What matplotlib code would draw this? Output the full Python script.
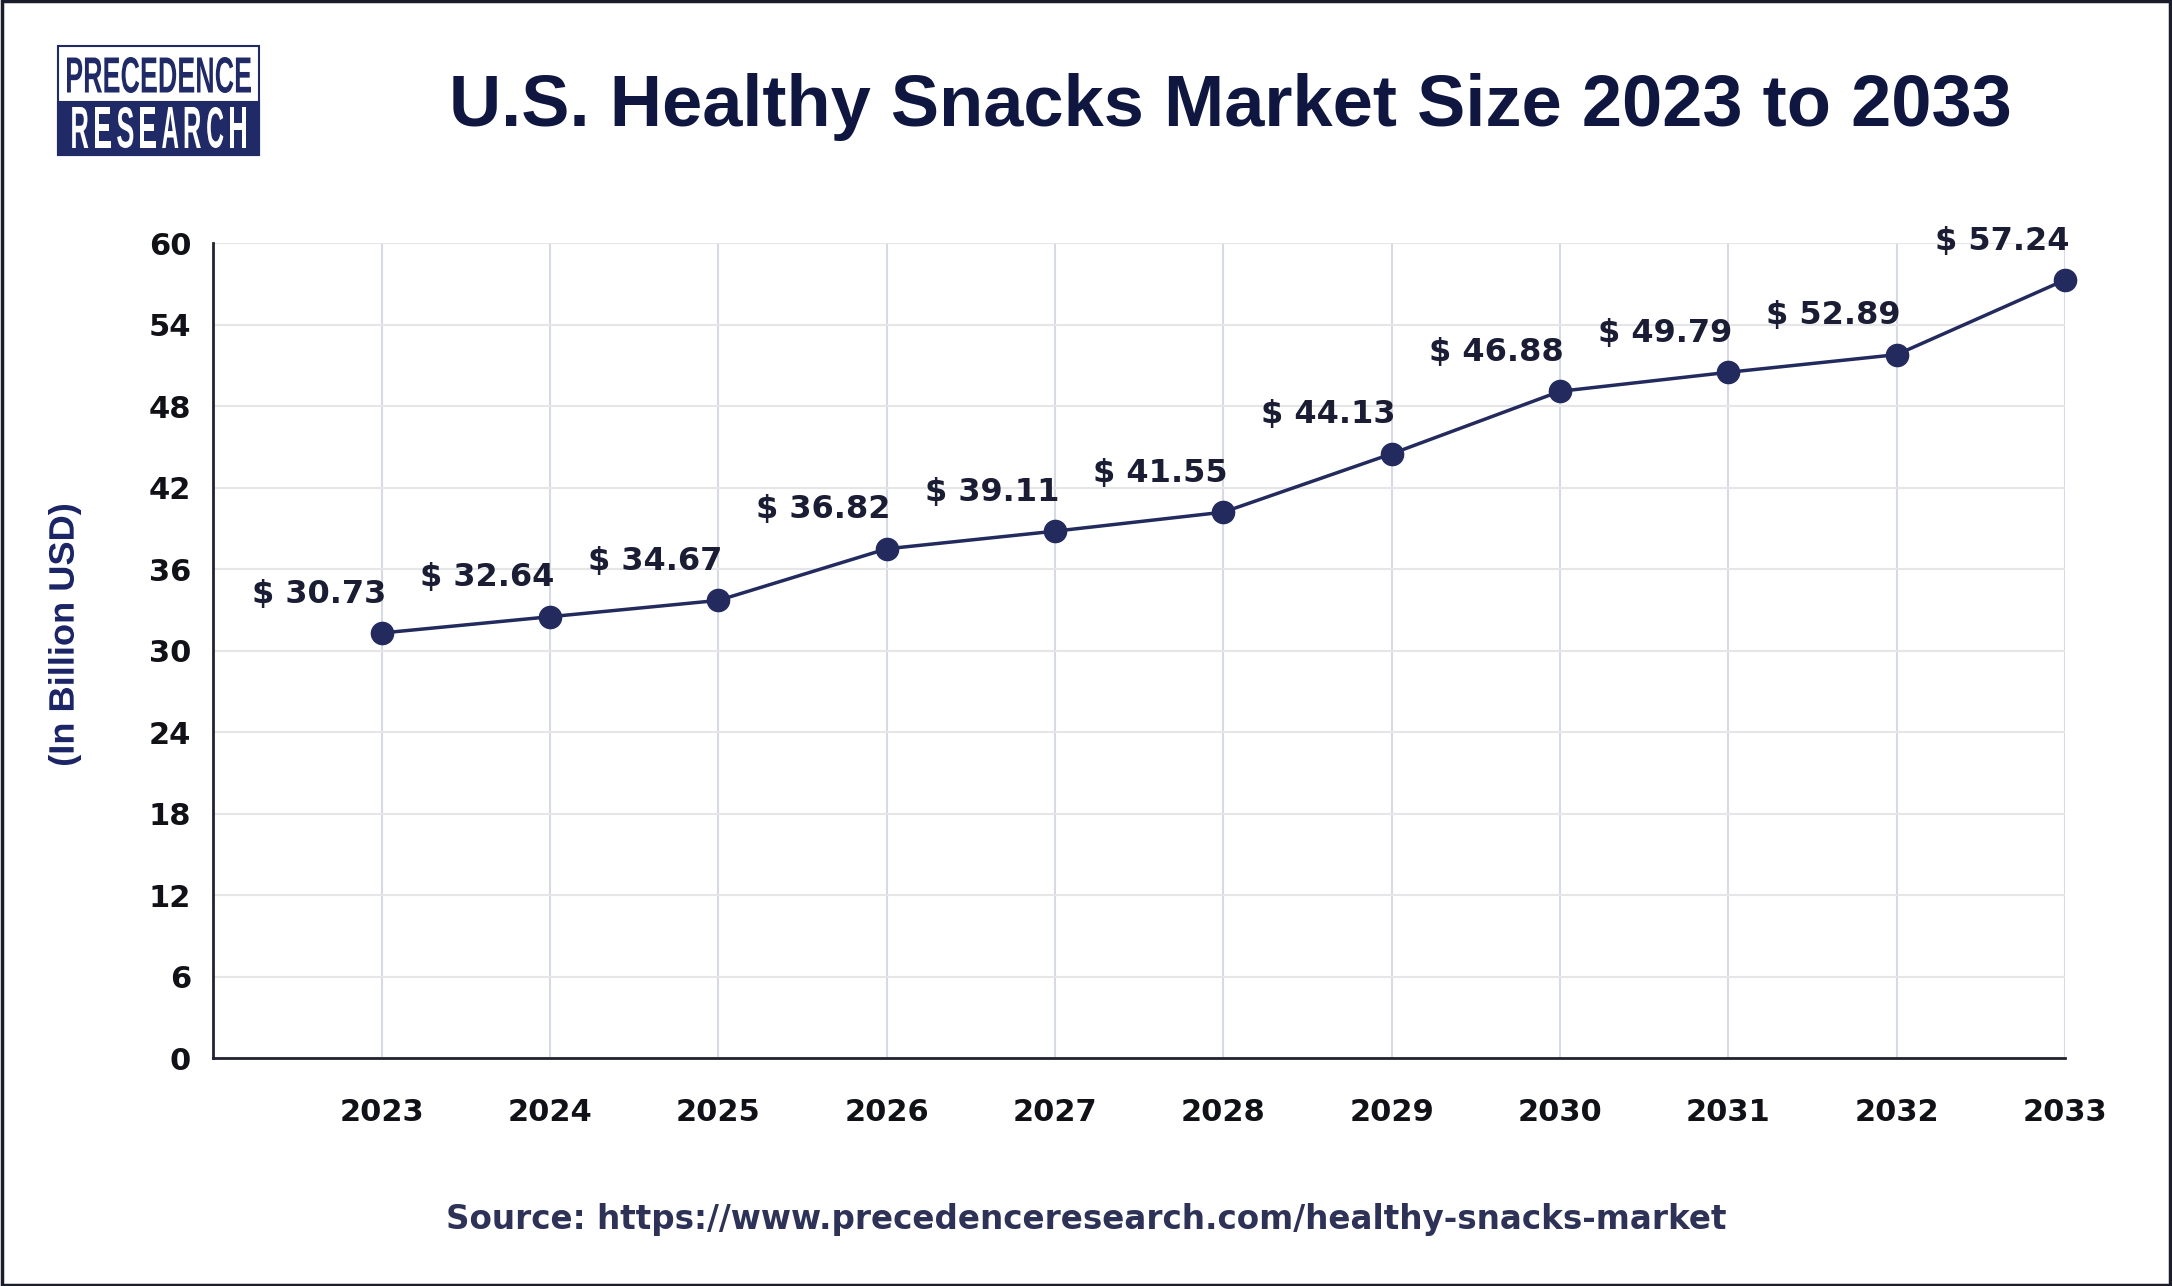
import matplotlib
matplotlib.use('Agg')
import matplotlib.pyplot as plt
from matplotlib.patches import Rectangle, PathPatch
from matplotlib.textpath import TextPath
from matplotlib.font_manager import FontProperties
from matplotlib.transforms import Affine2D, IdentityTransform

years = [2023, 2024, 2025, 2026, 2027, 2028, 2029, 2030, 2031, 2032, 2033]
# values printed on the chart
labels = [30.73, 32.64, 34.67, 36.82, 39.11, 41.55, 44.13, 46.88, 49.79, 52.89, 57.24]
# where the markers actually sit on the y axis
plotted = [31.3, 32.5, 33.7, 37.5, 38.8, 40.2, 44.5, 49.1, 50.5, 51.8, 57.3]
yticks = [0, 6, 12, 18, 24, 30, 36, 42, 48, 54, 60]

navy = '#232a5e'
W, H = 2172, 1286

fig = plt.figure(figsize=(W / 100, H / 100), dpi=100)
fig.patch.set_facecolor('white')

# frame round the whole picture
fig.patches.append(Rectangle((0.0007, 0.001), 0.9986, 0.998, transform=fig.transFigure,
                             fill=False, edgecolor='#1b1d2b', linewidth=2.5))

ax = fig.add_axes([213.4 / W, 1 - 1058 / H, (2065 - 213.4) / W, (1058 - 243.3) / H])
ax.set_xlim(2022, 2033)
ax.set_ylim(0, 60)
ax.set_xticks(years)
ax.set_yticks(yticks)
ax.set_axisbelow(True)
ax.grid(axis='y', color='#e6e6e8', linewidth=1.5)
ax.grid(axis='x', color='#d6dae4', linewidth=1.5)
for s in ['top', 'right']:
    ax.spines[s].set_visible(False)
for s in ['left', 'bottom']:
    ax.spines[s].set_color('#222230')
    ax.spines[s].set_linewidth(2)
ax.tick_params(axis='both', length=0, labelsize=22, labelcolor='#111118')
ax.tick_params(axis='x', pad=29)
ax.tick_params(axis='y', pad=16)
for t in ax.get_xticklabels() + ax.get_yticklabels():
    t.set_fontweight('bold')

ax.plot(years, plotted, color=navy, linewidth=2.5, marker='o', markersize=16,
        markerfacecolor=navy, markeredgecolor=navy, clip_on=False, zorder=3)
for x, y, v in zip(years, plotted, labels):
    ax.annotate(f'$ {v:.2f}', (x, y), xytext=(3, 28), textcoords='offset points',
                ha='right', va='center', fontsize=23, fontweight='bold', color='#1a1d33')

fig.text(0.5663, 0.917, 'U.S. Healthy Snacks Market Size 2023 to 2033',
         ha='center', va='center', fontsize=52, fontweight='bold',
         family=['Liberation Sans', 'DejaVu Sans'], color='#0f1640')

fig.text(0.5, 1 - 1220 / H, 'Source: https://www.precedenceresearch.com/healthy-snacks-market',
         ha='center', va='center', fontsize=23.5, fontweight='bold', color='#2e3256')

fp = FontProperties(family=['Liberation Sans Narrow', 'Liberation Sans'], weight='bold')


def squeezed(s, x0, x1, ytop, ybot, color, rotate=False):
    # text path stretched into a pixel box (x0..x1, ytop..ybot measured from the top)
    p = TextPath((0, 0), s, size=10, prop=fp)
    b = p.get_extents()
    if rotate:
        tr = (Affine2D().translate(-b.x0, -b.y0)
              .scale((ybot - ytop) / b.width, (x1 - x0) / b.height)
              .rotate_deg(90).translate(x1, H - ybot))
    else:
        tr = (Affine2D().translate(-b.x0, -b.y0)
              .scale((x1 - x0) / b.width, (ybot - ytop) / b.height)
              .translate(x0, H - ybot))
    fig.patches.append(PathPatch(tr.transform_path(p), facecolor=color, edgecolor='none',
                                 transform=IdentityTransform()))


# y axis title, condensed
squeezed('(In Billion USD)', 48, 81, 505, 765, '#1c2566', rotate=True)

# logo
fig.patches.append(Rectangle((58 / W, 1 - 155 / H), 201 / W, 109 / H, transform=fig.transFigure,
                             facecolor='white', edgecolor='#1f2a66', linewidth=1.5))
fig.patches.append(Rectangle((58 / W, 1 - 155 / H), 201 / W, 53 / H, transform=fig.transFigure,
                             facecolor='#1f2a66', edgecolor='#1f2a66', linewidth=1.5))
squeezed('PRECEDENCE', 67, 251, 57, 93, '#1f2a66')
slot = (249 - 69) / 8
for i, ch in enumerate('RESEARCH'):
    cx = 69 + slot * (i + 0.5)
    squeezed(ch, cx - slot * 0.36, cx + slot * 0.36, 107, 148, 'white')

fig.savefig('out.png', dpi=100)
